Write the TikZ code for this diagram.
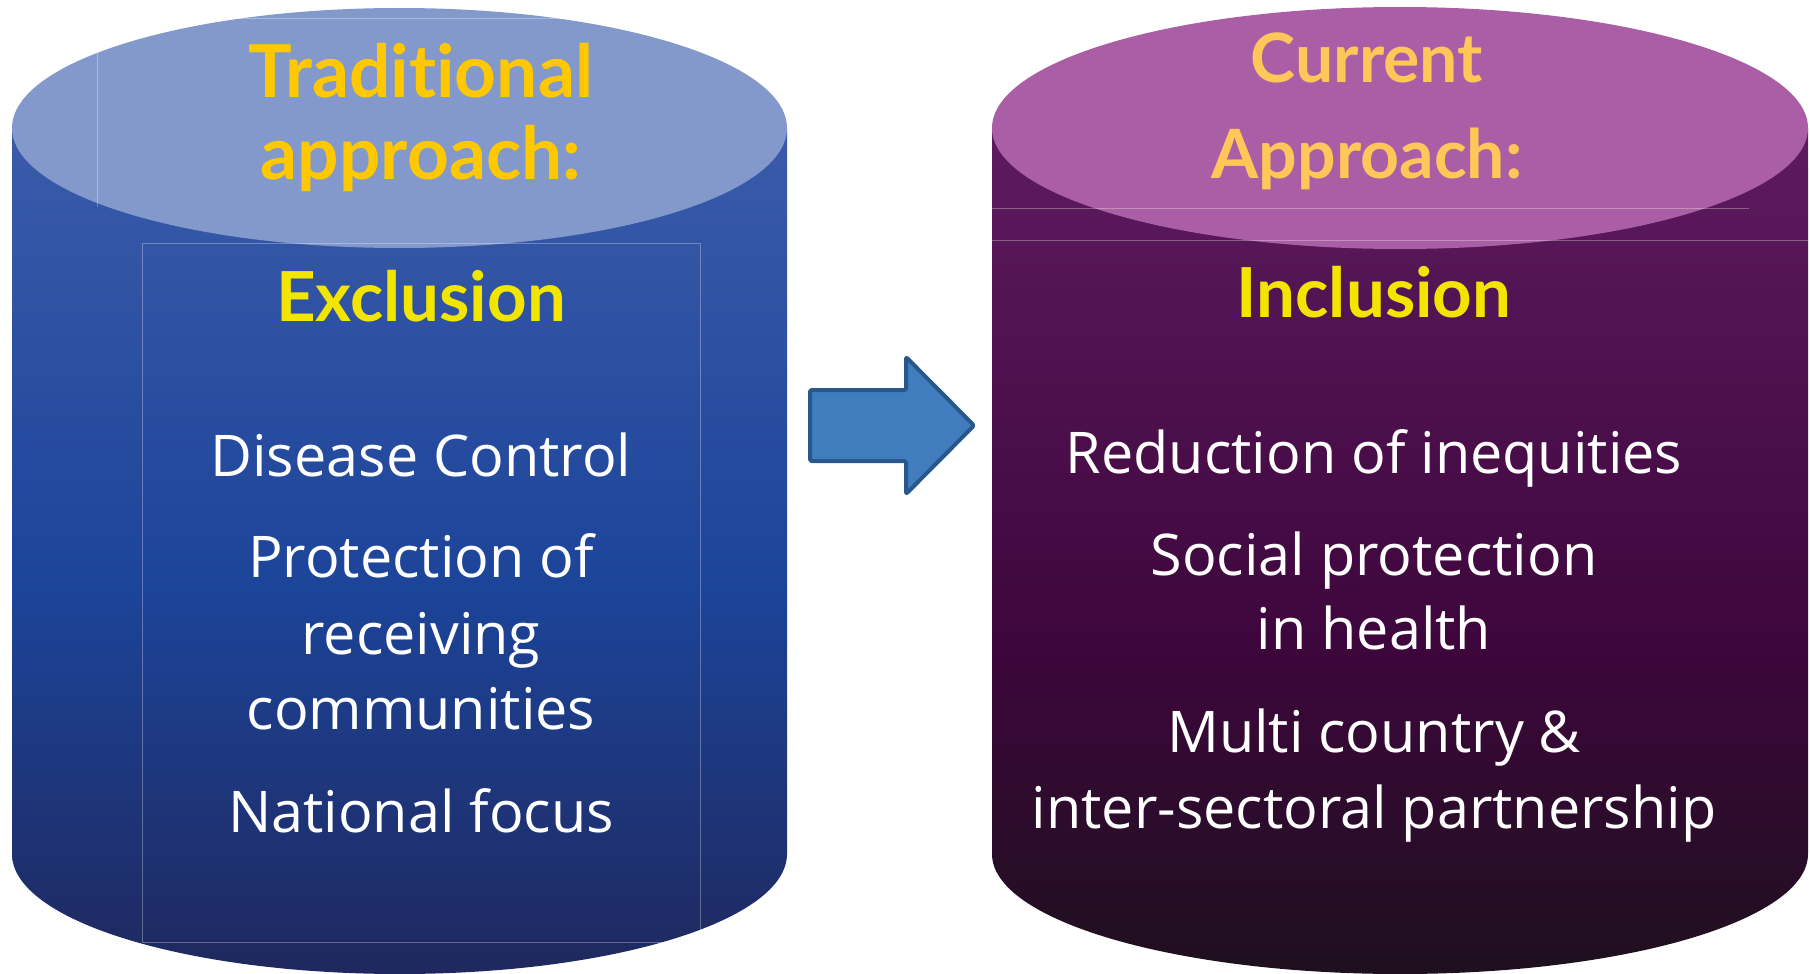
\documentclass[tikz,border=0pt]{standalone}
\usepackage{fontspec}
\setmainfont{Open Sans}
\newfontfamily\headfont[Ligatures=NoCommon]{Lato}
\definecolor{tradtop}{HTML}{3B5BAA}
\definecolor{tradmid}{HTML}{1C4499}
\definecolor{tradbot}{HTML}{1F285E}
\definecolor{tradcap}{HTML}{8399CC}
\definecolor{currtop}{HTML}{5E1B5F}
\definecolor{currmid}{HTML}{3D063C}
\definecolor{currbot}{HTML}{1E101E}
\definecolor{currcap}{HTML}{AA5EA5}
\definecolor{goldtxt}{HTML}{FFC800}
\definecolor{peachtxt}{HTML}{FFC65A}
\definecolor{keytxt}{HTML}{F2E600}
\definecolor{arrowfill}{HTML}{417DBE}
\definecolor{arrowline}{HTML}{28578C}
\pgfdeclareverticalshading{tradbody}{100bp}{color(0bp)=(tradbot); color(25bp)=(tradbot); color(47.7bp)=(tradmid); color(75bp)=(tradtop); color(100bp)=(tradtop)}
\pgfdeclareverticalshading{currbody}{100bp}{color(0bp)=(currbot); color(25bp)=(currbot); color(44.4bp)=(currmid); color(75bp)=(currtop); color(100bp)=(currtop)}
\begin{document}
\begin{tikzpicture}[x=1pt,y=-1pt,
  headtxt/.style={inner sep=0pt, anchor=base, font=\headfont\fontsize{69}{75}\selectfont\bfseries},
  bodytxt/.style={inner sep=0pt, anchor=base, text=white, font=\fontsize{57.5}{64}\selectfont},
  faint/.style={draw=white, draw opacity=0.3, line width=1pt}]
\useasboundingbox (0,0) rectangle (1810,974);

% left cylinder: body, inner frame, lid
\shade[shading=tradbody] (12,128) -- (12,854)
  arc[start angle=180, end angle=360, x radius=387.5pt, y radius=120pt]
  -- (787,128) -- cycle;
\fill[tradcap] (399.5,128) ellipse [x radius=387.5pt, y radius=120pt];
\draw[faint] (97,207) -- (97,19) -- (566,19);
\draw[faint] (142,243) rectangle (700,942);

% right cylinder: body, lid, separator lines
\shade[shading=currbody] (992,128) -- (992,854)
  arc[start angle=180, end angle=360, x radius=408pt, y radius=120pt]
  -- (1808,128) -- cycle;
\fill[currcap] (1400,128) ellipse [x radius=408pt, y radius=121pt];
\draw[faint] (992,208) -- (1749,208);
\draw[faint] (992,240) -- (1808,240);

% block arrow between the cylinders
\draw[arrowline, fill=arrowfill, line width=4pt, rounded corners=2pt, line join=round]
  (810,390) -- (906,390) -- (906,357) -- (974,425.5) -- (906,494) -- (906,461) -- (810,461) -- cycle;

% left texts
\node[headtxt, text=goldtxt, font=\headfont\fontsize{73}{80}\selectfont\bfseries] (tradA) at (421,97) {Traditional};
\node[headtxt, text=goldtxt, font=\headfont\fontsize{73}{80}\selectfont\bfseries] (tradB) at (421,179) {approach:};
\node[headtxt, text=keytxt] (excl) at (421,321) {Exclusion};
\node[bodytxt] (disease) at (421,476) {Disease Control};
\node[bodytxt] (protA) at (421,577) {Protection of};
\node[bodytxt] (protB) at (421,654) {receiving};
\node[bodytxt] (protC) at (421,729) {communities};
\node[bodytxt] (natl) at (421,832) {National focus};

% right texts
\node[headtxt, text=peachtxt, font=\headfont\fontsize{68}{75}\selectfont\bfseries] (currA) at (1367,83) {Current};
\node[headtxt, text=peachtxt, font=\headfont\fontsize{68}{75}\selectfont\bfseries] (currB) at (1367,178) {Approach:};
\node[headtxt, text=keytxt] (incl) at (1374,317) {Inclusion};
\node[bodytxt] (reduc) at (1374,473) {Reduction of inequities};
\node[bodytxt] (socA) at (1374,575) {Social protection};
\node[bodytxt] (socB) at (1374,649) {in health};
\node[bodytxt] (multiA) at (1374,752) {Multi country \&};
\node[bodytxt] (multiB) at (1374,828) {inter-sectoral partnership};
\end{tikzpicture}
\end{document}
